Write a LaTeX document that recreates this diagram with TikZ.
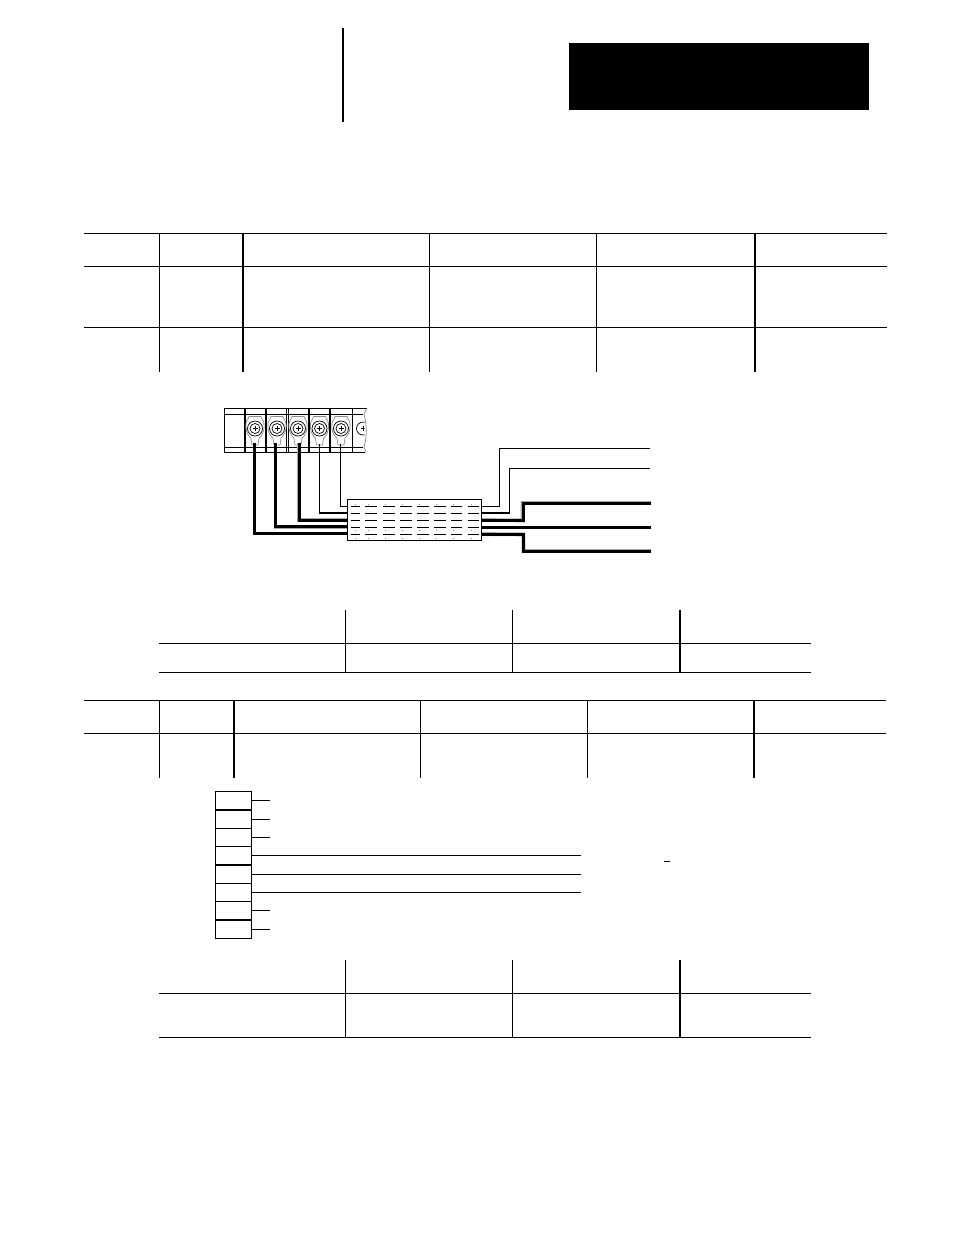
\documentclass[tikz,border=0pt]{standalone}
\tikzset{
  thinrule/.style={line width=0.9pt,black},
  heavyrule/.style={line width=2pt,black},
  thinwire/.style={line width=1.1pt,black,line join=miter},
  thickwire/.style={line width=3pt,black,line join=miter},
  wirefringe/.style={line width=3.8pt,black!35,line join=miter},
  pinbox/.style={draw=black,line width=1.15pt,minimum width=36pt,minimum height=18.3pt,inner sep=0pt,outer sep=0pt},
  shield/.style={draw=black,line width=1pt,minimum width=134.5pt,minimum height=41.5pt,inner sep=0pt,outer sep=0pt},
  stripline/.style={line width=0.9pt,black},
  stripbar/.style={line width=1.7pt,black},
  lug/.style={line width=0.7pt,black!45,fill=white},
  speck/.style={fill=black!45,draw=none},
}
\begin{document}
\begin{tikzpicture}[x=1pt,y=-1pt]
\useasboundingbox (0,0) rectangle (954,1235);
% header
\node[fill=black,draw=none,minimum width=300pt,minimum height=67pt,inner sep=0pt,anchor=north west] (title) at (569,43) {};
\draw[heavyrule] (343,28) -- (343,122);
% table 1
\foreach \y in {233.5,266,327} \draw[thinrule] (84,\y) -- (887,\y);
\foreach \x in {159,429.5,596.5} \draw[thinrule] (\x,233.5) -- (\x,372);
\foreach \x in {243,755} \draw[heavyrule] (\x,233.5) -- (\x,372);
% table 2
\foreach \y in {643.5,672.5} \draw[thinrule] (159,\y) -- (811,\y);
\foreach \x in {345.5,512.5} \draw[thinrule] (\x,610) -- (\x,672.5);
\draw[heavyrule] (680,610) -- (680,672.5);
% table 3
\foreach \y in {700.5,733.5} \draw[thinrule] (84,\y) -- (886,\y);
\foreach \x in {159.5,420.5,587.5} \draw[thinrule] (\x,700.5) -- (\x,778);
\foreach \x in {234,754} \draw[heavyrule] (\x,700.5) -- (\x,778);
% table 4
\foreach \y in {993.5,1037.5} \draw[thinrule] (159,\y) -- (811,\y);
\foreach \x in {345.5,512.5} \draw[thinrule] (\x,960) -- (\x,1037.5);
\draw[heavyrule] (680,960) -- (680,1037.5);
% terminal strip
\draw[stripline] (367,408) -- (224,408) -- (224,452) -- (365,452);
\foreach \y in {414,447} \draw[stripline] (224,\y) -- (363,\y);
\foreach \x in {245,266,309,330} \draw[stripbar] (\x,408) -- (\x,452);
\foreach \x in {286.7,288.6,352} \draw[stripline] (\x,408) -- (\x,452);
\draw[line width=0.6pt,black!55] (367,408) -- (364,414) .. controls (367,425) and (367,437) .. (364,447) -- (366,452);
% screws
\foreach \n/\x in {a/255,b/277,c/298,d/319.5,e/341} {
  \draw[lug] (\x-3,445) -- (\x-4,438) .. controls (\x-9,435) and (\x-11,423) .. (\x-7,419)
     -- (\x-6,416.5) -- (\x+6,416.5) -- (\x+7,419) .. controls (\x+11,423) and (\x+9,435) .. (\x+4,438) -- (\x+3,445) -- cycle;
  \node[circle,draw=black,line width=0.7pt,fill=white,minimum size=15pt,inner sep=0pt] (screw\n) at (\x,428.5) {};
  \node[circle,draw=black,line width=0.7pt,minimum size=10pt,inner sep=0pt] at (\x,428.5) {};
  \draw[line width=0.9pt] (\x-2.5,428.5) -- (\x+2.5,428.5) (\x,426) -- (\x,431);
}
\begin{scope}
\clip (352,414) rectangle (364.5,447);
\node[circle,draw=black,line width=0.7pt,minimum size=13pt,inner sep=0pt] (screwf) at (363,428.5) {};
\draw[line width=0.9pt] (360.5,428.5) -- (365,428.5) (363,426) -- (363,431);
\end{scope}
% shield
\node[shield,anchor=north west] (box) at (347.3,499.2) {};
% wires
\coordinate (l1) at (347,533.5); \coordinate (l2) at (347,526.8); \coordinate (l3) at (347,520); \coordinate (l4) at (347,513); \coordinate (l5) at (347,506.3);
\coordinate (t1) at (254.5,443); \coordinate (t2) at (275.5,443); \coordinate (t3) at (299,443); \coordinate (t4) at (319.5,444); \coordinate (t5) at (340.5,444);
\draw[wirefringe,yshift=-0.4pt,xshift=0.4pt] (t1) |- (l1);
\draw[wirefringe,yshift=-0.4pt,xshift=0.4pt] (t2) |- (l2);
\draw[wirefringe,yshift=-0.4pt,xshift=-0.4pt] (t3) |- (l3);
\draw[thickwire] (t1) |- (l1);
\draw[thickwire] (t2) |- (l2);
\draw[thickwire] (t3) |- (l3);
\draw[thinwire] (t4) |- (l4);
\draw[thinwire] (t5) |- (l5);
\coordinate (r1) at (481.8,506.3); \coordinate (r2) at (481.8,513); \coordinate (r3) at (481.8,520); \coordinate (r4) at (481.8,527.3); \coordinate (r5) at (481.8,534);
\coordinate (e1) at (650,448.5); \coordinate (e2) at (650,468.5); \coordinate (e3) at (651,503); \coordinate (e4) at (651,527.3); \coordinate (e5) at (651,551);
\draw[thinwire] (r1) -- (499.5,506.3) |- (e1);
\draw[thinwire] (r2) -- (509.5,513) |- (e2);
\draw[wirefringe,yshift=-0.4pt,xshift=-0.4pt] (r3) -- (523,520) |- (e3);
\draw[wirefringe,yshift=-0.4pt,xshift=0.4pt] (r5) -- (523,534) |- (e5);
\draw[thickwire] (r3) -- (523,520) |- (e3);
\draw[thickwire] (r4) -- (e4);
\draw[thickwire] (r5) -- (523,534) |- (e5);
% shield hatching
\foreach \y in {506.5,513.5,520.5,527.5,534.5} {
  \foreach \a/\b in {351/360,365/377,383/395,400/412,417/429,434/446,451/462,468/479}
    \draw[line width=1pt] (\a,\y) -- (\b,\y);
}
\foreach \y in {504,530,538} {
  \foreach \a in {355,368,385,402,419,436,453,471}
    \fill[speck] (\a,\y) rectangle ++(1,1);
}
% connector
\foreach \i/\y in {1/800.5,2/819.5,3/837.5,4/855.5,5/874.5,6/892.5,7/910.5,8/929.5}
  \node[pinbox,anchor=center] (pin\i) at (233.5,\y) {};
\foreach \i in {1,2,3,7,8} {
  \coordinate (s\i) at ([xshift=18.5pt]pin\i.east);
  \draw[thinrule,line width=1.1pt] (pin\i.east) -- (s\i);
}
\foreach \i in {4,5,6} {
  \coordinate (s\i) at ([xshift=329.5pt]pin\i.east);
  \draw[thinrule,line width=1.1pt] (pin\i.east) -- (s\i);
}
\draw[line width=1.1pt] (663.5,861.5) -- (670,861.5);
\end{tikzpicture}
\end{document}
